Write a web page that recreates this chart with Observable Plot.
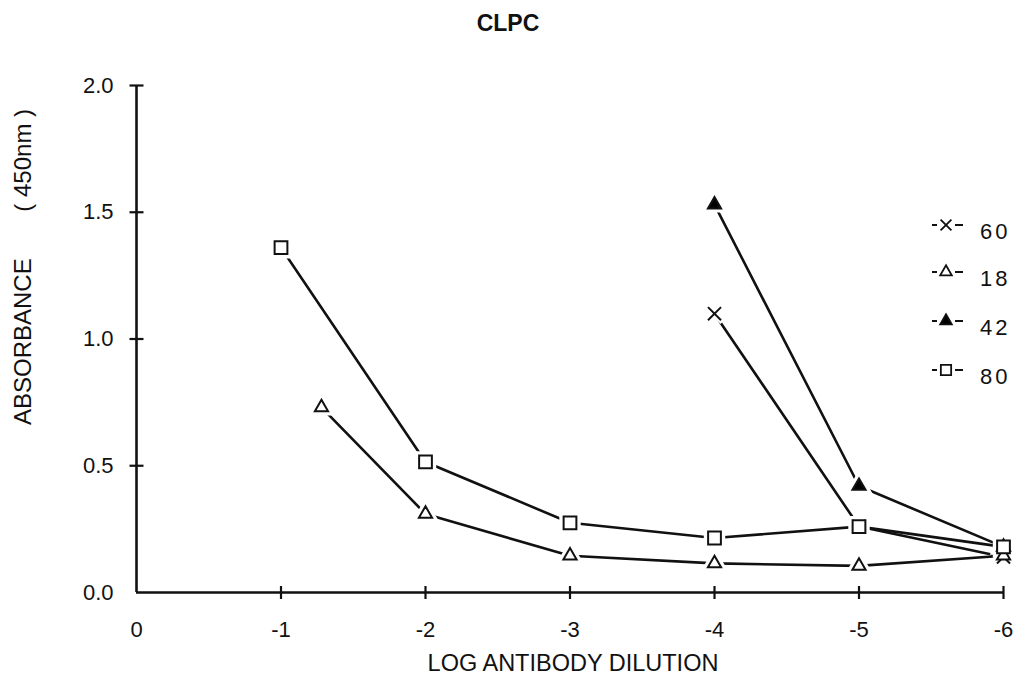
<!DOCTYPE html>
<html><head><meta charset="utf-8">
<script src="https://cdn.jsdelivr.net/npm/d3@7"></script>
<script src="https://cdn.jsdelivr.net/npm/@observablehq/plot@0.6"></script>
<style>
body{margin:0;background:#fff;}
#wrap{position:relative;width:1019px;height:683px;font-family:"Liberation Sans",Arial,sans-serif;}
#legend{position:absolute;left:0;top:0;pointer-events:none;}
g[aria-label="title"] text{letter-spacing:1px;}
#legend text{letter-spacing:3px;}
</style></head><body><div id="wrap"></div>
<script>
// ---- data ----
const xTicks = [0, -1, -2, -3, -4, -5, -6];
const yTicks = [0, 0.5, 1, 1.5, 2];
const seriesNames = ["60", "18", "42", "80"];
const x60 = [-4, -5, -6];
const y60 = [1.10, 0.26, 0.14];
const x18 = [-1.28, -2, -3, -4, -5, -6];
const y18 = [0.73, 0.31, 0.145, 0.115, 0.105, 0.145];
const x42 = [-4, -5, -6];
const y42 = [1.53, 0.42, 0.18];
const x80 = [-1, -2, -3, -4, -5, -6];
const y80 = [1.36, 0.515, 0.275, 0.215, 0.26, 0.18];
const titleText = "CLPC";
const xLabel = "LOG ANTIBODY DILUTION";
const yLabel = "ABSORBANCE\u00a0\u00a0\u00a0\u00a0\u00a0\u00a0\u00a0( 450nm )";

// ---- styles ----
const seriesData = {"60": [x60, y60], "18": [x18, y18], "42": [x42, y42], "80": [x80, y80]};
const styleOf = {
  "60": {symbol: "times", fill: "none", r: 6, lr: 5},
  "18": {symbol: "triangle", fill: "white", r: 4.9, lr: 4.3},
  "42": {symbol: "triangle", fill: "black", r: 4.9, lr: 4.3},
  "80": {symbol: "square", fill: "white", r: 7.2, lr: 5.8}
};
const d3Sym = {times: d3.symbolTimes, triangle: d3.symbolTriangle, square: d3.symbolSquare};

const rows = seriesNames.map(name => {
  const [xs, ys] = seriesData[name];
  return {name, pts: xs.map((x, i) => ({x, y: ys[i]}))};
});

const vTick = {draw(ctx) { ctx.moveTo(0, -6.5); ctx.lineTo(0, 6.5); }};
const hTick = {draw(ctx) { ctx.moveTo(-7, 0); ctx.lineTo(7, 0); }};

const marks = [
  Plot.axisX({ticks: xTicks, tickSize: 0, tickPadding: 29, tickFormat: d => String(d), fontSize: 22, label: null}),
  Plot.axisY({ticks: yTicks, tickSize: 0, tickPadding: 23, tickFormat: d3.format(".1f"), fontSize: 22, label: null}),
  Plot.ruleY([0], {stroke: "#111", strokeWidth: 2.6}),
  Plot.ruleX([0], {stroke: "#111", strokeWidth: 2.6}),
  Plot.dot(xTicks.slice(1), {x: d => d, y: () => 0, symbol: vTick, fill: "none", stroke: "#111", strokeWidth: 2.2}),
  Plot.dot(yTicks.slice(1), {x: () => 0, y: d => d, symbol: hTick, fill: "none", stroke: "#111", strokeWidth: 2.2})
];
for (const s of rows) {
  marks.push(Plot.line(s.pts, {x: "x", y: "y", stroke: "#111", strokeWidth: 2.6}));
}
for (const s of rows) {
  const st = styleOf[s.name];
  marks.push(Plot.dot(s.pts, {x: "x", y: "y", symbol: st.symbol, r: st.r + 1.5, fill: "white", stroke: "white", strokeWidth: 6}));
}
for (const s of rows) {
  const st = styleOf[s.name];
  marks.push(Plot.dot(s.pts, {x: "x", y: "y", symbol: st.symbol, r: st.r, fill: st.fill, stroke: "#111", strokeWidth: 2}));
}
marks.push(Plot.text([titleText], {frameAnchor: "top", lineAnchor: "middle", dx: -62, dy: -62, fontSize: 23, fontWeight: "bold", fill: "#111", ariaLabel: "title"}));
marks.push(Plot.text([xLabel], {frameAnchor: "bottom", lineAnchor: "middle", dx: 3, dy: 71, fontSize: 23.5, fill: "#111"}));
marks.push(Plot.text([yLabel], {frameAnchor: "left", textAnchor: "middle", lineAnchor: "middle", dx: -113, dy: -72, rotate: -90, fontSize: 24, fill: "#111", ariaLabel: "ylabel"}));

const plot = Plot.plot({
  width: 1019, height: 683,
  marginLeft: 136, marginRight: 16, marginTop: 85, marginBottom: 91,
  x: {domain: [0, -6]},
  y: {domain: [0, 2]},
  style: {fontFamily: "'Liberation Sans', Arial, sans-serif", color: "#111", background: "white"},
  marks
});
const wrap = document.getElementById("wrap");
wrap.appendChild(plot);

// ---- legend (overlay) ----
const legendRowsY = [225, 272, 321, 370];
const leg = d3.select(wrap).append("svg").attr("id", "legend").attr("width", 1019).attr("height", 683);
seriesNames.forEach((name, i) => {
  const st = styleOf[name];
  const g = leg.append("g").attr("transform", `translate(946,${legendRowsY[i]})`);
  g.append("line").attr("x1", -14).attr("x2", -9).attr("stroke", "#111").attr("stroke-width", 2);
  g.append("line").attr("x1", 9).attr("x2", 17).attr("stroke", "#111").attr("stroke-width", 2);
  const size = Math.PI * st.lr * st.lr;
  g.append("path").attr("d", d3.symbol(d3Sym[st.symbol], size)())
    .attr("fill", st.fill).attr("stroke", "#111").attr("stroke-width", 1.8);
  leg.append("text").attr("x", 980).attr("y", legendRowsY[i] + 6).attr("dy", "0.35em")
    .attr("font-size", 22).attr("fill", "#111").attr("font-family", "'Liberation Sans', Arial, sans-serif")
    .text(name);
});
</script></body></html>
